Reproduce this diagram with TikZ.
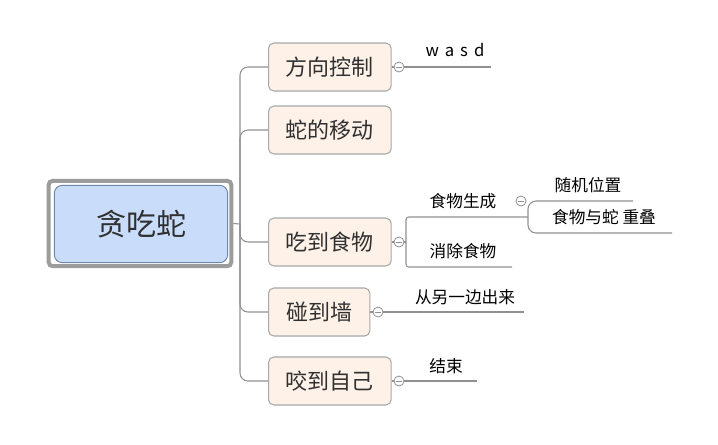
\documentclass[tikz,border=0pt]{standalone}
\usepackage{fontspec}
\setmainfont{Noto Sans CJK SC}
\newfontfamily\cjkspaced[LetterSpace=36]{Noto Sans CJK SC}
\definecolor{linegray}{HTML}{909090}
\definecolor{childfill}{HTML}{FDF1E8}
\definecolor{childdraw}{HTML}{A8A8A8}
\definecolor{rootfill}{HTML}{C9DDFB}
\definecolor{rootdraw}{HTML}{6F86A8}
\definecolor{rootframe}{HTML}{9C9C9C}
\definecolor{txt}{HTML}{303030}
\begin{document}
\begin{tikzpicture}[x=0.75pt,y=-0.75pt,
  conn/.style={draw=linegray,line width=0.8pt},
  childbox/.style={draw=childdraw,fill=childfill,line width=0.8pt,rounded corners=4pt,
     minimum height=36pt,minimum width=92pt,anchor=west,inner sep=0pt,
     font=\fontsize{16.5pt}{18pt}\selectfont,text=txt},
  knob/.style={circle,draw=linegray,fill=white,line width=0.6pt,minimum size=7.5pt,inner sep=0pt,
     path picture={\draw[linegray,line width=0.5pt]
       ([xshift=-2pt]path picture bounding box.center) -- ([xshift=2pt]path picture bounding box.center);}},
  leaf/.style={inner sep=0pt,font=\fontsize{12.5pt}{14pt}\selectfont,text=black}
]
\useasboundingbox (0,0) rectangle (718,444);

% root
\node[draw=rootframe,line width=3pt,rounded corners=3pt,minimum width=137pt,minimum height=64pt] (rootframe) at (140,223.5) {};
\node[draw=rootdraw,fill=rootfill,line width=0.7pt,rounded corners=6pt,minimum width=130pt,minimum height=58pt,
  font=\fontsize{22.5pt}{24pt}\selectfont,text=txt] (root) at (141,224) {贪吃蛇};

% children
\node[childbox] (c1) at (268,67) {方向控制};
\node[childbox] (c2) at (268,130) {蛇的移动};
\node[childbox] (c3) at (268,242) {吃到食物};
\node[childbox,minimum width=76pt] (c4) at (268,312) {碰到墙};
\node[childbox] (c5) at (268,381) {咬到自己};

% trunk
\coordinate (j) at (240,224);
\draw[conn] (rootframe.east) -- (j);
\foreach \c in {c1,c2,c3,c4,c5}{
  \draw[conn,rounded corners=6pt] (j) |- (\c.west);
}

% connectors to knobs
\coordinate (j3) at (406,242);
\coordinate (s1) at (528,217);
\coordinate (s2) at (512,267);
\coordinate (e1) at (491,67);
\coordinate (e4) at (524,312);
\coordinate (e5) at (477,381);
\coordinate (t1) at (633,201);
\coordinate (t2) at (672,233);

\draw[conn] (c1.east) -- (e1);
\draw[conn] (c3.east) -- (j3);
\draw[conn] (c4.east) -- (e4);
\draw[conn] (c5.east) -- (e5);
\draw[conn,rounded corners=2pt] (j3) |- (s1);
\draw[conn,rounded corners=2pt] (j3) |- (s2);
\draw[conn,rounded corners=6pt] (s1) |- (t1);
\draw[conn,rounded corners=6pt] (s1) |- (t2);

% knobs
\node[knob] (k1) at (399,67) {};
\node[knob] (k3) at (399,242) {};
\node[knob] (k4) at (378,312) {};
\node[knob] (k5) at (399,381) {};
\node[knob] (k6) at (521,201) {};

% leaf texts
\node[leaf,font=\cjkspaced\fontsize{12.5pt}{14pt}\selectfont] (l1) at (455,50) {wasd};
\node[leaf] (l4) at (465,297) {从另一边出来};
\node[leaf] (l5) at (446,366) {结束};
\node[leaf] (l31) at (463,201) {食物生成};
\node[leaf] (l32) at (463,251) {消除食物};
\node[leaf] (l61) at (588,185) {随机位置};
\node[leaf] (l62) at (604,217) {食物与蛇 重叠};
\end{tikzpicture}
\end{document}
